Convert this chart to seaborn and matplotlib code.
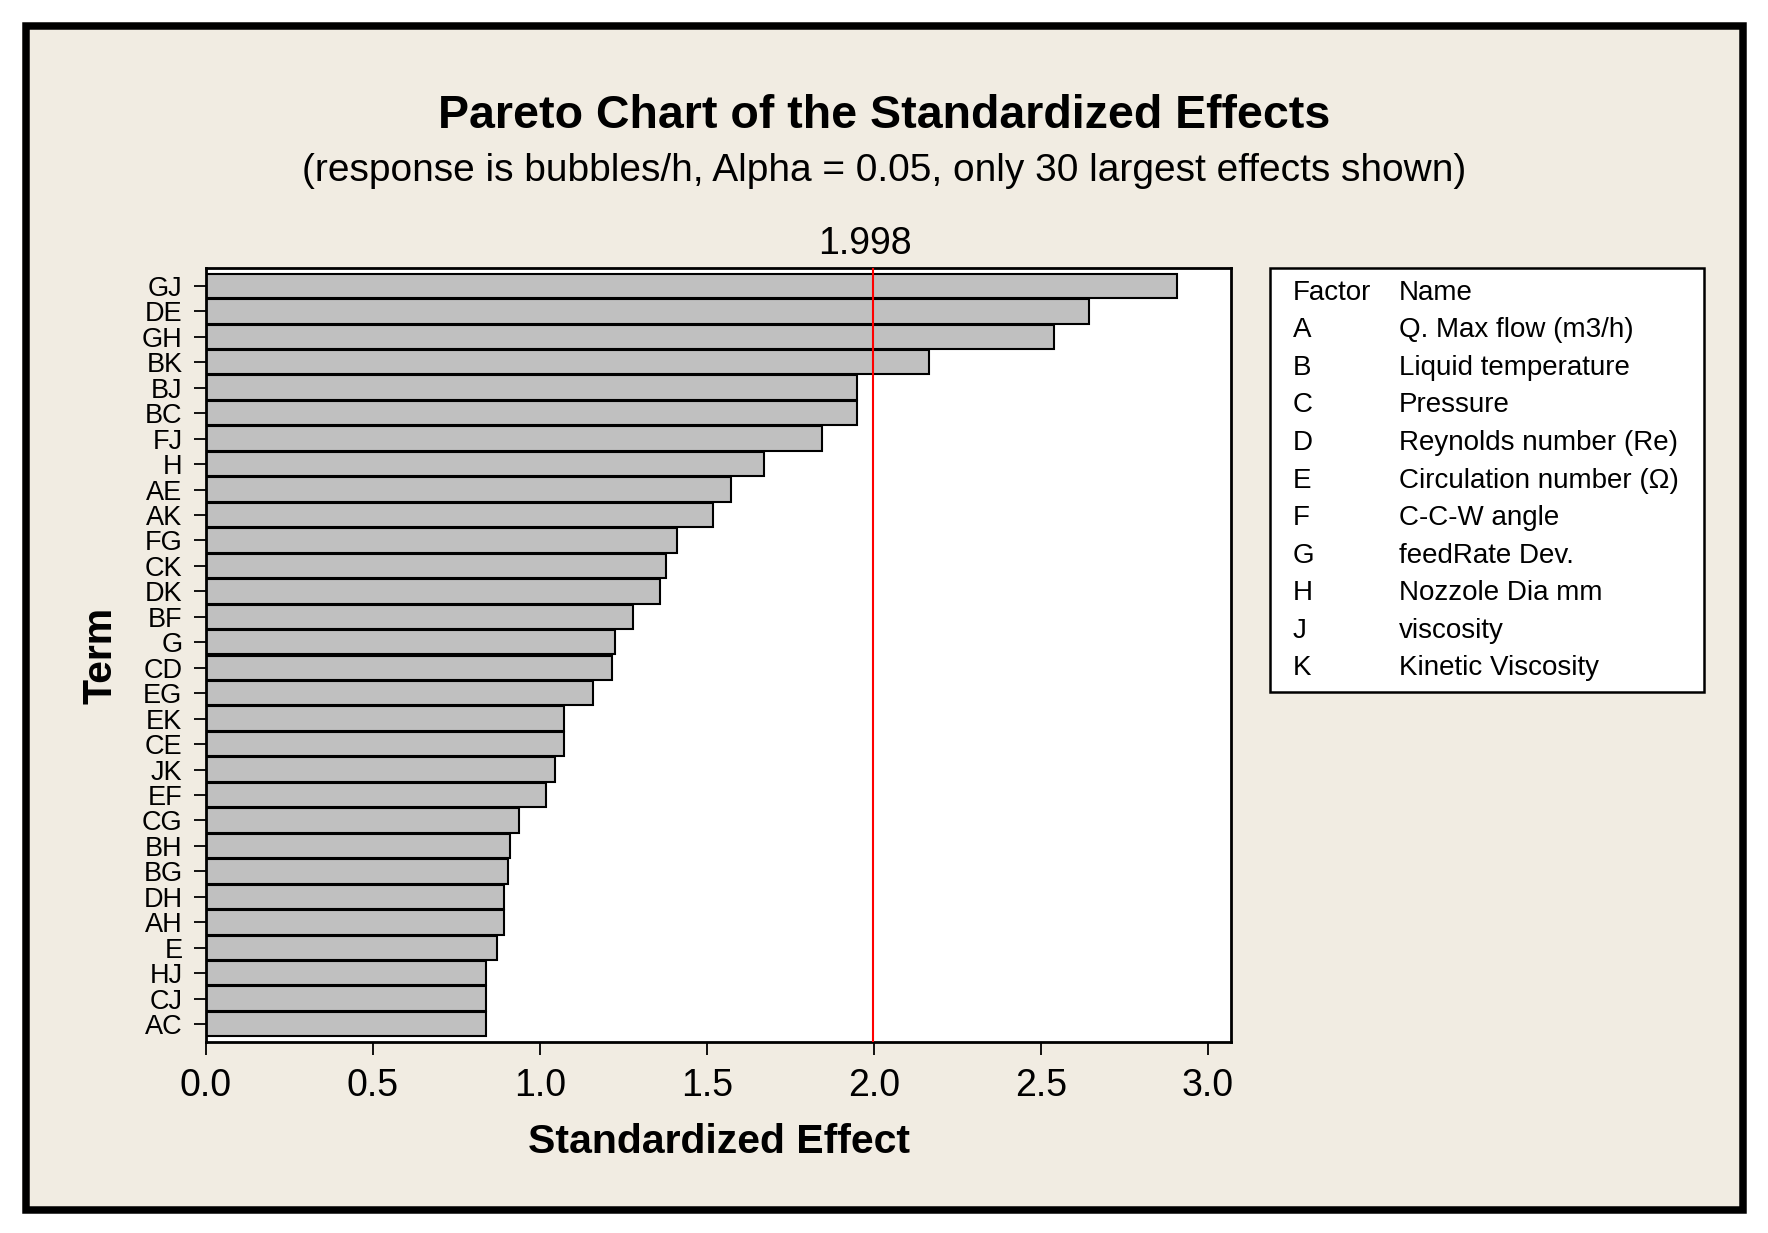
import matplotlib
matplotlib.use('Agg')
import matplotlib.pyplot as plt
from matplotlib.patches import Rectangle
import seaborn as sns

terms = ['GJ', 'DE', 'GH', 'BK', 'BJ', 'BC', 'FJ', 'H', 'AE', 'AK',
         'FG', 'CK', 'DK', 'BF', 'G', 'CD', 'EG', 'EK', 'CE', 'JK',
         'EF', 'CG', 'BH', 'BG', 'DH', 'AH', 'E', 'HJ', 'CJ', 'AC']
effects = [2.908, 2.645, 2.540, 2.164, 1.950, 1.950, 1.843, 1.671, 1.573, 1.518,
           1.410, 1.376, 1.359, 1.278, 1.224, 1.217, 1.160, 1.072, 1.072, 1.045,
           1.018, 0.937, 0.910, 0.903, 0.893, 0.893, 0.872, 0.839, 0.839, 0.839]
critical = 1.998
factors = ['A', 'B', 'C', 'D', 'E', 'F', 'G', 'H', 'J', 'K']
factor_names = ['Q. Max flow (m3/h)', 'Liquid temperature', 'Pressure',
                'Reynolds number (Re)', 'Circulation number (\u03a9)', 'C-C-W angle',
                'feedRate Dev.', 'Nozzole Dia mm', 'viscosity', 'Kinetic Viscosity']
xticks = [0.0, 0.5, 1.0, 1.5, 2.0, 2.5, 3.0]

sns.set_style('white')
plt.rcParams['font.family'] = ['Liberation Sans', 'DejaVu Sans']
plt.rcParams['text.color'] = 'black'
plt.rcParams['axes.labelcolor'] = 'black'
plt.rcParams['xtick.color'] = 'black'
plt.rcParams['ytick.color'] = 'black'

bg = '#F1ECE2'
W, H = 1768, 1233
fig = plt.figure(figsize=(W / 100, H / 100), dpi=100, facecolor='white')

# beige panel with thick black frame
fig.patches.append(Rectangle((25.5 / W, 1 - 1209.5 / H), (1743 - 25.5) / W, (1209.5 - 26) / H,
                             transform=fig.transFigure, facecolor=bg, edgecolor='black',
                             linewidth=5.4, zorder=-2))

ax = fig.add_axes([206 / W, 1 - 1042 / H, (1231 - 206) / W, (1042 - 268) / H])
ax.set_zorder(2)
ax.set_facecolor('white')
sns.barplot(x=effects, y=terms, orient='h', color='#C0C0C0', saturation=1,
            edgecolor='black', linewidth=1.5, width=0.96, ax=ax)
ax.axvline(critical, color='red', linewidth=1.5, zorder=5)
ax.annotate(f'{critical:.3f}', xy=(critical, 1), xycoords=('data', 'axes fraction'),
            xytext=(-6, 10), textcoords='offset points', ha='center', va='baseline',
            fontsize=27)

ax.set_xlim(0, 3.069)
ax.set_ylim(29.7, -0.7)
ax.set_xticks(xticks)
ax.set_xticklabels([f'{t:.1f}' for t in xticks])
ax.tick_params(axis='x', length=9.5, width=1.3, pad=9, labelsize=27, direction='out', bottom=True)
ax.tick_params(axis='y', length=9, width=1.3, pad=8, labelsize=19.5, direction='out', left=True)
for s in ax.spines.values():
    s.set_visible(True)
    s.set_color('black')
    s.set_linewidth(2.0)
ax.set_xlabel('Standardized Effect', fontsize=29.5, fontweight='bold', labelpad=14)
ax.set_ylabel('Term', fontsize=29.5, fontweight='bold', labelpad=16)

fig.text(0.5, 1 - 128 / H, 'Pareto Chart of the Standardized Effects',
         ha='center', va='baseline', fontsize=33.5, fontweight='bold')
fig.text(0.5, 1 - 181 / H,
         '(response is bubbles/h, Alpha = 0.05, only 30 largest effects shown)',
         ha='center', va='baseline', fontsize=28)

# factor table box
fig.patches.append(Rectangle((1270 / W, 1 - 692 / H), (1704 - 1270) / W, (692 - 268) / H,
                             transform=fig.transFigure, facecolor='white',
                             edgecolor='black', linewidth=1.8, zorder=1))
rows = [('Factor', 'Name')] + list(zip(factors, factor_names))
for i, (f, n) in enumerate(rows):
    yb = 1 - (300 + 37.5 * i) / H
    fig.text(1293 / W, yb, f, ha='left', va='baseline', fontsize=20, zorder=3)
    fig.text(1399 / W, yb, n, ha='left', va='baseline', fontsize=20, zorder=3)

fig.savefig('out.png', dpi=100, facecolor='white')
